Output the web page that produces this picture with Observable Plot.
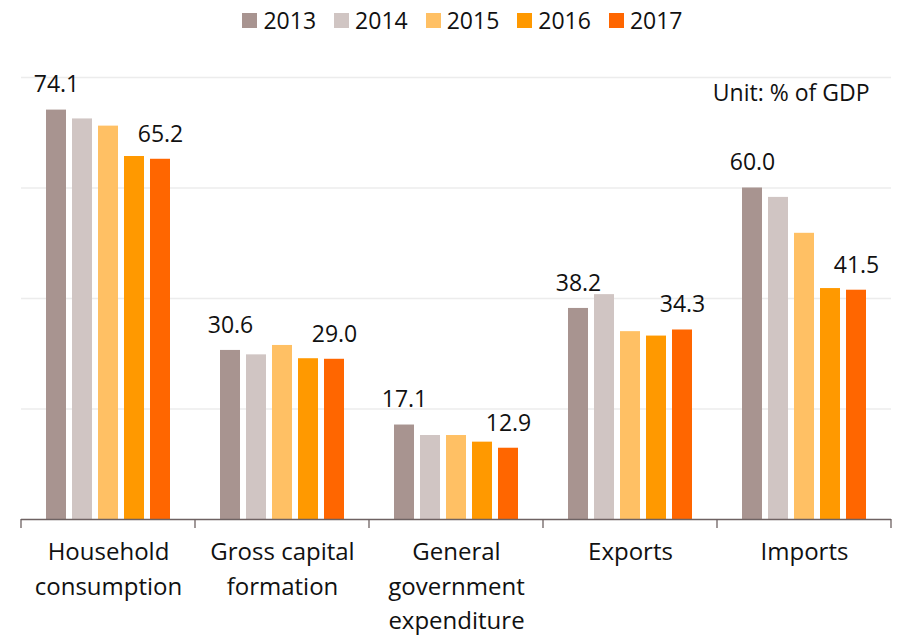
<!DOCTYPE html>
<html>
<head>
<meta charset="utf-8">
<script src="https://cdn.jsdelivr.net/npm/d3@7"></script>
<script src="https://cdn.jsdelivr.net/npm/@observablehq/plot@0.6"></script>
<style>
  body { margin: 0; background: #fff; font-family: "Open Sans", sans-serif; }
  #legend { height: 45px; display: flex; justify-content: center; align-items: center; padding-left: 28px; padding-bottom: 5px; box-sizing: border-box; width: 897px; }
  .item { display: flex; align-items: center; margin-right: 18px; font-size: 23px; color: #111; }
  .item:last-child { margin-right: 0; }
  .sw { width: 15px; height: 15px; margin-right: 6px; }
</style>
</head>
<body>
<div id="legend"></div>
<div id="chart"></div>
<script>
const categories = ["Household\nconsumption", "Gross capital\nformation", "General\ngovernment\nexpenditure", "Exports", "Imports"];
const years = ["2013", "2014", "2015", "2016", "2017"];
const colors = ["#a89490", "#d0c5c3", "#ffc064", "#ff9900", "#ff6600"];
const v2013 = [74.1, 30.6, 17.1, 38.2, 60.0];
const v2014 = [72.5, 29.8, 15.2, 40.7, 58.3];
const v2015 = [71.2, 31.5, 15.2, 34.0, 51.8];
const v2016 = [65.7, 29.1, 14.0, 33.2, 41.8];
const v2017 = [65.2, 29.0, 12.9, 34.3, 41.5];
const labeledYears = ["2013", "2017"];
const gridTicks = [20, 40, 60, 80];
const unitLabel = "Unit: % of GDP";

const series = [v2013, v2014, v2015, v2016, v2017];
const data = [];
categories.forEach((c, i) => years.forEach((y, j) => data.push({category: c, year: y, value: series[j][i]})));

// legend
const legend = document.getElementById("legend");
years.forEach((y, j) => {
  const it = document.createElement("div");
  it.className = "item";
  it.innerHTML = `<div class="sw" style="background:${colors[j]}"></div><span>${y}</span>`;
  legend.appendChild(it);
});

const chart = Plot.plot({
  width: 897,
  height: 591,
  marginLeft: 20,
  marginRight: 5,
  marginTop: 32,
  marginBottom: 117,
  style: {fontFamily: "Open Sans", fontSize: "23px", color: "#111", background: "#fff"},
  fx: {domain: categories, padding: 0, label: null},
  x: {domain: years, paddingInner: 0.22, paddingOuter: 0.84, axis: null},
  y: {domain: [0, 80], axis: null},
  color: {domain: years, range: colors},
  marks: [
    Plot.gridY(gridTicks, {stroke: "#ececec", strokeOpacity: 1, strokeWidth: 1.3}),
    Plot.barY(data, {fx: "category", x: "year", y: "value", fill: "year"}),
    Plot.ruleY([0], {stroke: "#6e6262", strokeWidth: 1.3}),
    Plot.text(data.filter(d => labeledYears.includes(d.year)), {
      fx: "category", x: "year", y: "value",
      text: d => d.value.toFixed(1),
      dy: -25, lineAnchor: "middle", fontSize: 23, fill: "#111"
    }),
    Plot.text([unitLabel], {
      fx: [categories[4]], frameAnchor: "top-right", lineAnchor: "middle",
      dx: -22, dy: 16, fontSize: 23, fill: "#111"
    }),
    Plot.axisFx({anchor: "bottom", tickSize: 0, tickPadding: 16, fontSize: 24, lineHeight: 1.44, label: null, fill: "#111"})
  ]
});

document.getElementById("chart").appendChild(chart);

// category separator ticks below the baseline, from the fx and y scales
const fx = chart.scale("fx");
const ys = chart.scale("y");
const y0 = ys.apply(0);
const edges = categories.map(c => fx.apply(c)).concat([fx.apply(categories[categories.length - 1]) + fx.bandwidth]);
d3.select(chart).append("g")
  .attr("stroke", "#6e6262").attr("stroke-width", 1.3)
  .selectAll("line").data(edges).join("line")
  .attr("x1", d => d).attr("x2", d => d)
  .attr("y1", y0).attr("y2", y0 + 9);
</script>
</body>
</html>
